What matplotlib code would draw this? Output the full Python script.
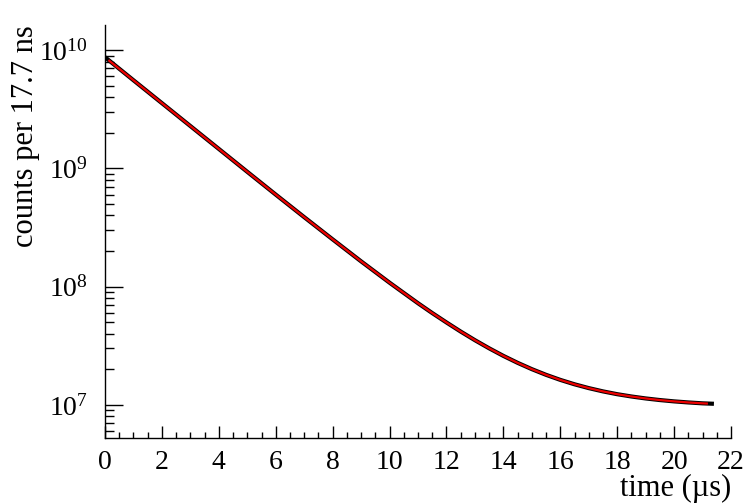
import matplotlib
matplotlib.use("Agg")
import matplotlib.pyplot as plt
from matplotlib.ticker import LogLocator, MultipleLocator, LogFormatterSciNotation, NullFormatter

plt.rcParams['font.family'] = ['Liberation Serif', 'DejaVu Serif']
plt.rcParams['mathtext.fontset'] = 'custom'
plt.rcParams['mathtext.rm'] = 'Liberation Serif'
plt.rcParams['mathtext.it'] = 'Liberation Serif:italic'

# data (histogram, black) and fit (red)
time_us = [0, 1, 2, 3, 4, 5, 6, 7, 8, 9, 10, 10.5, 11, 11.5, 12, 12.5, 13, 13.5, 14, 14.5, 15, 15.5,
           16, 16.5, 17, 17.5, 18, 18.5, 19, 19.5, 20, 20.5, 21, 21.4]
counts = [8.71e9, 5.56e9, 3.56e9, 2.28e9, 1.46e9, 9.35e8, 6.00e8, 3.87e8, 2.51e8, 1.636e8,
          1.080e8, 8.84e7, 7.24e7, 5.98e7, 4.98e7, 4.17e7, 3.525e7, 3.01e7, 2.597e7, 2.269e7,
          2.006e7, 1.796e7, 1.628e7, 1.494e7, 1.387e7, 1.301e7, 1.232e7, 1.178e7, 1.134e7,
          1.099e7, 1.071e7, 1.049e7, 1.031e7, 1.022e7]
fit_time = [0.15, 1, 2, 3, 4, 5, 6, 7, 8, 9, 10, 10.5, 11, 11.5, 12, 12.5, 13, 13.5, 14, 14.5, 15, 15.5,
            16, 16.5, 17, 17.5, 18, 18.5, 19, 19.5, 20, 20.5, 21, 21.15]
fit_counts = [8.12e9, 5.56e9, 3.56e9, 2.28e9, 1.46e9, 9.35e8, 6.00e8, 3.87e8, 2.51e8, 1.636e8,
              1.080e8, 8.84e7, 7.24e7, 5.98e7, 4.98e7, 4.17e7, 3.525e7, 3.01e7, 2.597e7, 2.269e7,
              2.006e7, 1.796e7, 1.628e7, 1.494e7, 1.387e7, 1.301e7, 1.232e7, 1.178e7, 1.134e7,
              1.099e7, 1.071e7, 1.049e7, 1.031e7, 1.027e7]

xlabel = "time (\u00b5s)"
ylabel = "counts per 17.7 ns"

fig = plt.figure(figsize=(7.47, 5.04), dpi=100)
ax = fig.add_axes([105/747, 1-438/504, (731-105)/747, (438-25)/504])

ax.plot(time_us, counts, color='black', lw=3.0, solid_capstyle='butt', zorder=2)
ax.plot(fit_time, fit_counts, color='#ee0000', lw=1.6, zorder=3)

ax.set_yscale('log')
ax.set_xlim(0, 22)
ax.set_ylim(5.25e6, 1.63e10)

ax.xaxis.set_major_locator(MultipleLocator(2))
ax.xaxis.set_minor_locator(MultipleLocator(0.5))
ax.yaxis.set_major_locator(LogLocator(base=10, numticks=20))
ax.yaxis.set_minor_locator(LogLocator(base=10, subs=range(2, 10), numticks=20))
ax.yaxis.set_major_formatter(LogFormatterSciNotation())
ax.yaxis.set_minor_formatter(NullFormatter())

for s in ['top', 'right']:
    ax.spines[s].set_visible(False)
for s in ['left', 'bottom']:
    ax.spines[s].set_linewidth(1.0)

ax.tick_params(axis='x', which='major', direction='in', length=8.6, width=1.0, labelsize=20, pad=8.5)
ax.tick_params(axis='x', which='minor', direction='in', length=4.3, width=1.0)
ax.tick_params(axis='y', which='major', direction='in', length=13, width=1.0, labelsize=20, pad=12.5)
ax.tick_params(axis='y', which='minor', direction='in', length=6.5, width=1.0)

ax.set_xlabel(xlabel, fontsize=22, loc='right')
ax.set_ylabel(ylabel, fontsize=22, loc='top')
ax.xaxis.set_label_coords(1.0, -0.088)
ax.yaxis.set_label_coords(-0.104, 1.0)

fig.savefig('out.png', dpi=100)
